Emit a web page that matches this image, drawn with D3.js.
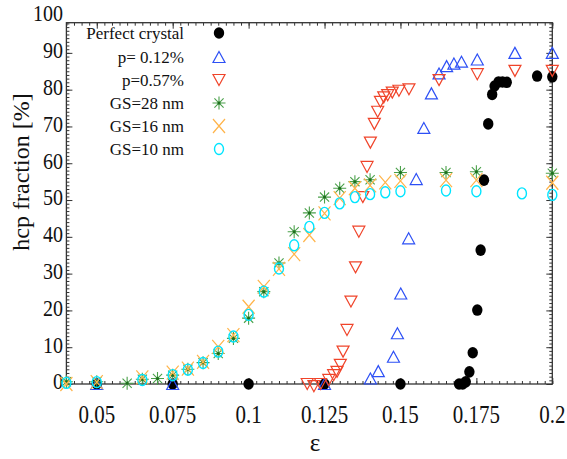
<!DOCTYPE html>
<html><head><meta charset="utf-8">
<script src="https://cdn.jsdelivr.net/npm/d3@7"></script>
<style>body{margin:0;background:#fff}svg{display:block}text{font-family:"Liberation Serif","Times New Roman",serif;fill:#111}</style>
</head><body><svg id="c" width="567" height="459"></svg>
<script>
// ---- data ----
const perfectX = [0.05,0.075,0.1,0.125,0.15,0.1693,0.1705,0.1715,0.1727,0.1738,0.1753,0.1764,0.1775,0.1789,0.1802,0.181,0.1823,0.1836,0.185,0.195,0.2];
const perfectY = [0,0,0,0,0,0,0,0.6,3.3,8.5,20.1,36.4,55.4,70.7,78.7,81,82.1,82.1,82,83.7,83.5];

const p012X = [0.05,0.075,0.125,0.1401,0.1427,0.1477,0.149,0.1501,0.1527,0.1552,0.1577,0.1602,0.1627,0.1652,0.1676,0.1701,0.1753,0.1877,0.2];
const p012Y = [0,0,0,1.5,3.5,7.4,13.8,24.6,39.6,55.7,69.6,79,84.4,86.4,87.1,87.6,88.2,90,90];

const p057X = [0.1193,0.1215,0.1237,0.1264,0.128,0.1291,0.1302,0.1311,0.1324,0.1337,0.1352,0.1363,0.1376,0.139,0.1401,0.1414,0.1425,0.1434,0.1445,0.1458,0.1473,0.1495,0.1528,0.1627,0.1753,0.1877,0.2];
const p057Y = [0,-0.6,0,1.1,2.4,3.3,5.2,8.8,14.7,22.4,31.7,41.4,50.8,59,65.6,70.7,74,76.7,77.9,78.5,79.2,79.7,80.1,82.6,84.2,85.1,85.1];

const gs28X = [0.04,0.05,0.06,0.065,0.07,0.075,0.08,0.085,0.09,0.095,0.1,0.105,0.11,0.115,0.12,0.125,0.13,0.135,0.14,0.15,0.165,0.175,0.2];
const gs28Y = [0.6,0.6,0.2,1.3,1.5,2.4,4,5.8,8.3,12.4,17.9,25.1,32.9,41.4,46.5,50.8,53.2,55,55.5,57.5,57.5,57.7,57.3];

const gs16X = [0.04,0.05,0.065,0.075,0.08,0.085,0.09,0.095,0.1,0.105,0.11,0.115,0.12,0.125,0.13,0.135,0.14,0.145,0.15,0.165,0.175,0.2];
const gs16Y = [0,0.5,1.8,3.1,4.2,6,10.1,13.3,21,26.4,31.3,35.3,40.5,46.4,50.5,53.2,54,54.8,55.2,55.4,55.4,54.7];

const gs10X = [0.04,0.05,0.065,0.075,0.08,0.085,0.09,0.095,0.1,0.105,0.11,0.115,0.12,0.125,0.13,0.135,0.14,0.145,0.15,0.165,0.175,0.19,0.2];
const gs10Y = [0.3,0.5,1.1,2.4,3.9,5.7,8.8,12.9,18.8,25.1,31.4,37.7,42.7,46.5,49.1,50.8,51.6,52.1,52.4,52.6,52.4,51.8,51.4];

const seriesNames = ["Perfect crystal","p= 0.12%","p=0.57%","GS=28 nm","GS=16 nm","GS=10 nm"];
const xTicks = [0.05,0.075,0.1,0.125,0.15,0.175,0.2];
const xTickLabels = ["0.05","0.075","0.1","0.125","0.15","0.175","0.2"];
const yTicks = [0,10,20,30,40,50,60,70,80,90,100];
const yTickLabels = ["0","10","20","30","40","50","60","70","80","90","100"];
const xLabel = "ε";
const yLabel = "hcp fraction [%]";

// ---- layout ----
const L = 66.4, R = 552.3, T = 22.7, B = 384;
const x = d3.scaleLinear().domain([0.04, 0.2]).range([L, R]);
const y = d3.scaleLinear().domain([0, 98.2]).range([B, T]);
const svg = d3.select("#c");
svg.append("rect").attr("width",567).attr("height",459).attr("fill","#fff");

const frameColor = "#333";
const xMinor = d3.range(0, 65).map(i => 0.04 + i*0.0025).filter(v => v <= 0.2001);
const yMinor = d3.range(0, 99);
const yMajor = yTicks.filter(v => v <= 98.2);

function styleAxis(g){
  g.select(".domain").remove();
  g.selectAll("text").remove();
  g.selectAll("line").attr("stroke", frameColor).attr("stroke-width", 1);
}
// bottom
svg.append("g").attr("transform",`translate(0,${B})`).call(d3.axisBottom(x).tickValues(xMinor).tickSizeInner(-3).tickSizeOuter(0)).call(styleAxis);
svg.append("g").attr("transform",`translate(0,${B})`).call(d3.axisBottom(x).tickValues(xTicks).tickSizeInner(-6).tickSizeOuter(0)).call(styleAxis);
// top
svg.append("g").attr("transform",`translate(0,${T})`).call(d3.axisTop(x).tickValues(xMinor).tickSizeInner(-3).tickSizeOuter(0)).call(styleAxis);
svg.append("g").attr("transform",`translate(0,${T})`).call(d3.axisTop(x).tickValues(xTicks).tickSizeInner(-6).tickSizeOuter(0)).call(styleAxis);
// left
svg.append("g").attr("transform",`translate(${L},0)`).call(d3.axisLeft(y).tickValues(yMinor).tickSizeInner(-3).tickSizeOuter(0)).call(styleAxis);
svg.append("g").attr("transform",`translate(${L},0)`).call(d3.axisLeft(y).tickValues(yMajor).tickSizeInner(-6).tickSizeOuter(0)).call(styleAxis);
// right
svg.append("g").attr("transform",`translate(${R},0)`).call(d3.axisRight(y).tickValues(yMinor).tickSizeInner(-3).tickSizeOuter(0)).call(styleAxis);
svg.append("g").attr("transform",`translate(${R},0)`).call(d3.axisRight(y).tickValues(yMajor).tickSizeInner(-6).tickSizeOuter(0)).call(styleAxis);

svg.append("rect").attr("x",L).attr("y",T).attr("width",R-L).attr("height",B-T)
  .attr("fill","none").attr("stroke",frameColor).attr("stroke-width",1.3);

// tick labels
svg.append("g").selectAll("text").data(xTicks).join("text")
  .attr("transform", d => `translate(${x(d)},423) scale(1,1.15)`)
  .attr("text-anchor","middle").attr("font-size",21)
  .text((d,i) => xTickLabels[i]);
svg.append("g").selectAll("text").data(yTicks).join("text")
  .attr("transform", d => `translate(63,${y(d)-2}) scale(1,1.12)`)
  .attr("text-anchor","end").attr("dominant-baseline","central").attr("font-size",20)
  .text((d,i) => yTickLabels[i]);

svg.append("text").attr("transform","translate(29,172) rotate(-90)")
  .attr("text-anchor","middle").attr("font-size",24).text(yLabel);
svg.append("text").attr("x",315).attr("y",451)
  .attr("text-anchor","middle").attr("font-size",25).text(xLabel);

// ---- markers ----
const colors = {black:"#000", blue:"#2d50f5", red:"#f0442a", green:"#2e8b2e", orange:"#ffb44a", cyan:"#00e5ff"};
const markers = [
  (g) => g.append("ellipse").attr("rx",5.2).attr("ry",5.8).attr("fill",colors.black),
  (g) => g.append("path").attr("d","M0,-5.5L6,5.5L-6,5.5Z").attr("fill","none").attr("stroke",colors.blue).attr("stroke-width",1.2),
  (g) => g.append("path").attr("d","M0,5.5L6,-5.5L-6,-5.5Z").attr("fill","none").attr("stroke",colors.red).attr("stroke-width",1.2),
  (g) => { g.append("path").attr("d","M-6.5,0H6.5M0,-6.5V6.5M-4.6,-4.6L4.6,4.6M-4.6,4.6L4.6,-4.6").attr("stroke","#4aa04a").attr("stroke-width",1.1).attr("fill","none");
           g.append("circle").attr("r",1.5).attr("fill","#1e6e1e"); },
  (g) => g.append("path").attr("d","M-6,-7L6,7M-6,7L6,-7").attr("stroke",colors.orange).attr("stroke-width",1.2).attr("fill","none"),
  (g) => g.append("ellipse").attr("rx",4.5).attr("ry",5.5).attr("fill","none").attr("stroke",colors.cyan).attr("stroke-width",1.4)
];
const seriesData = [[perfectX,perfectY],[p012X,p012Y],[p057X,p057Y],[gs28X,gs28Y],[gs16X,gs16Y],[gs10X,gs10Y]];
seriesData.forEach(([xs,ys], si) => {
  const g = svg.append("g");
  xs.forEach((xv,i) => {
    const m = g.append("g").attr("transform",`translate(${x(xv)},${y(ys[i])})`);
    markers[si](m);
  });
});

// ---- legend ----
const legendRows = [33,57,80,103,126,149];
seriesNames.forEach((name,i) => {
  svg.append("text").attr("x",184).attr("y",legendRows[i]+5.5).attr("text-anchor","end")
    .attr("font-size",17).text(name);
  const m = svg.append("g").attr("transform",`translate(219,${legendRows[i]})`);
  markers[i](m);
});
</script></body></html>
